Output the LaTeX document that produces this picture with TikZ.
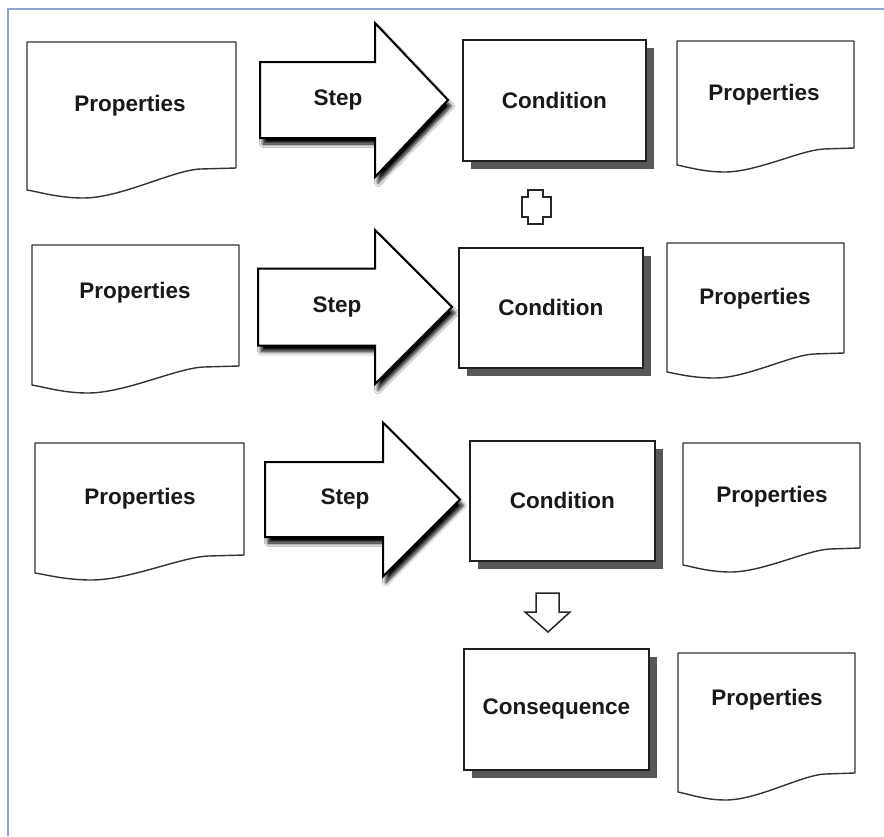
\documentclass[tikz,border=0pt]{standalone}
\usepackage{fontspec}
\setmainfont{Liberation Sans}
\usetikzlibrary{shadows,shadows.blur}

\definecolor{framecol}{RGB}{143,163,209}
\definecolor{shadowgray}{RGB}{88,88,88}

\tikzset{
  lbl/.style={font=\fontsize{22.5}{27}\selectfont\bfseries, text=black!90, inner sep=0pt},
  docshape/.style={draw=black!80, line width=1.4pt, fill=white, line join=round},
  condbox/.style={draw=black!88, line width=1.6pt, fill=white, inner sep=0pt,
    font=\fontsize{22.5}{27}\selectfont\bfseries, text=black!90,
    drop shadow={shadow xshift=8pt, shadow yshift=-8pt, fill=shadowgray, opacity=1}},
  bigarrow/.style={draw=black, line width=2pt, fill=white, line join=miter,
    blur shadow={shadow xshift=3pt, shadow yshift=-6pt, shadow blur radius=3.5pt,
      shadow blur steps=10, shadow opacity=100}},
  smallsym/.style={draw=black!85, line width=1.5pt, fill=white, line join=miter},
  frameline/.style={draw=framecol, line width=2pt}
}

% page-like sheet with a wavy lower edge: left, top, right, right-bottom, left-bottom, lowest point
\newcommand\docsheet[6]{%
  \draw[docshape] (#1,#2) -- (#3,#2) -- (#3,#4) -- ({#3-0.17*(#3-#1)},{#4+1})
    .. controls ({#3-0.3*(#3-#1)},{#4+2}) and ({#1+0.45*(#3-#1)},#6) .. ({#1+0.27*(#3-#1)},#6)
    .. controls ({#1+0.15*(#3-#1)},#6) and ({#1+0.06*(#3-#1)},{#5+2}) .. (#1,#5) -- cycle;}

% block arrow: body left, head base, tip x, middle y, body half height, head half height
\newcommand\steparrow[6]{%
  \draw[bigarrow] (#1,{#4-#5}) -- (#2,{#4-#5}) -- (#2,{#4-#6}) -- (#3,#4)
    -- (#2,{#4+#6}) -- (#2,{#4+#5}) -- (#1,{#4+#5}) -- cycle;}

\begin{document}
\begin{tikzpicture}[x=1pt,y=-1pt]
\useasboundingbox (0,0) rectangle (884,836);
\fill[white] (0,0) rectangle (884,836);
\draw[frameline] (884,9) -- (8,9) -- (8,836);

% ---- first row
\docsheet{27}{42}{236}{168}{190}{198}
\node[lbl] (prop1a) at (130,106) {Properties};
\steparrow{260}{375}{448}{100}{38}{77}
\node[lbl] (step1) at (338,100) {Step};
\node[condbox, anchor=north west, minimum width=183pt, minimum height=121pt] (cond1) at (462,39) {Condition};
\docsheet{677}{41}{854}{148}{165}{172}
\node[lbl] (prop1b) at (764,95) {Properties};

% plus sign between the first two conditions
\draw[smallsym] (528,190) -- (543,190) -- (543,197) -- (551,197) -- (551,217) -- (543,217)
  -- (543,224) -- (528,224) -- (528,217) -- (522,217) -- (522,197) -- (528,197) -- cycle;

% ---- second row
\docsheet{32}{245}{239}{366}{385}{393}
\node[lbl] (prop2a) at (135,293) {Properties};
\steparrow{258}{375}{452}{307}{38.5}{77}
\node[lbl] (step2) at (337,307) {Step};
\node[condbox, anchor=north west, minimum width=184pt, minimum height=120pt] (cond2) at (458,247) {Condition};
\docsheet{667}{243}{844}{353}{372}{378}
\node[lbl] (prop2b) at (755,299) {Properties};

% ---- third row
\docsheet{35}{443}{244}{555}{573}{580}
\node[lbl] (prop3a) at (140,499) {Properties};
\steparrow{265}{383}{460}{499.5}{37.5}{77}
\node[lbl] (step3) at (345,499) {Step};
\node[condbox, anchor=north west, minimum width=185pt, minimum height=120pt] (cond3) at (469,440) {Condition};
\docsheet{683}{443}{860}{548}{565}{572}
\node[lbl] (prop3b) at (772,497) {Properties};

% down arrow to the consequence
\draw[smallsym] (536,593) -- (559,593) -- (559,612) -- (570,612) -- (548,632) -- (525,612) -- (536,612) -- cycle;

% ---- consequence row
\node[condbox, anchor=north west, minimum width=185pt, minimum height=121pt] (cons) at (463,648) {Consequence};
\docsheet{678}{653}{855}{773}{792}{800}
\node[lbl] (prop4) at (767,700) {Properties};
\end{tikzpicture}
\end{document}
